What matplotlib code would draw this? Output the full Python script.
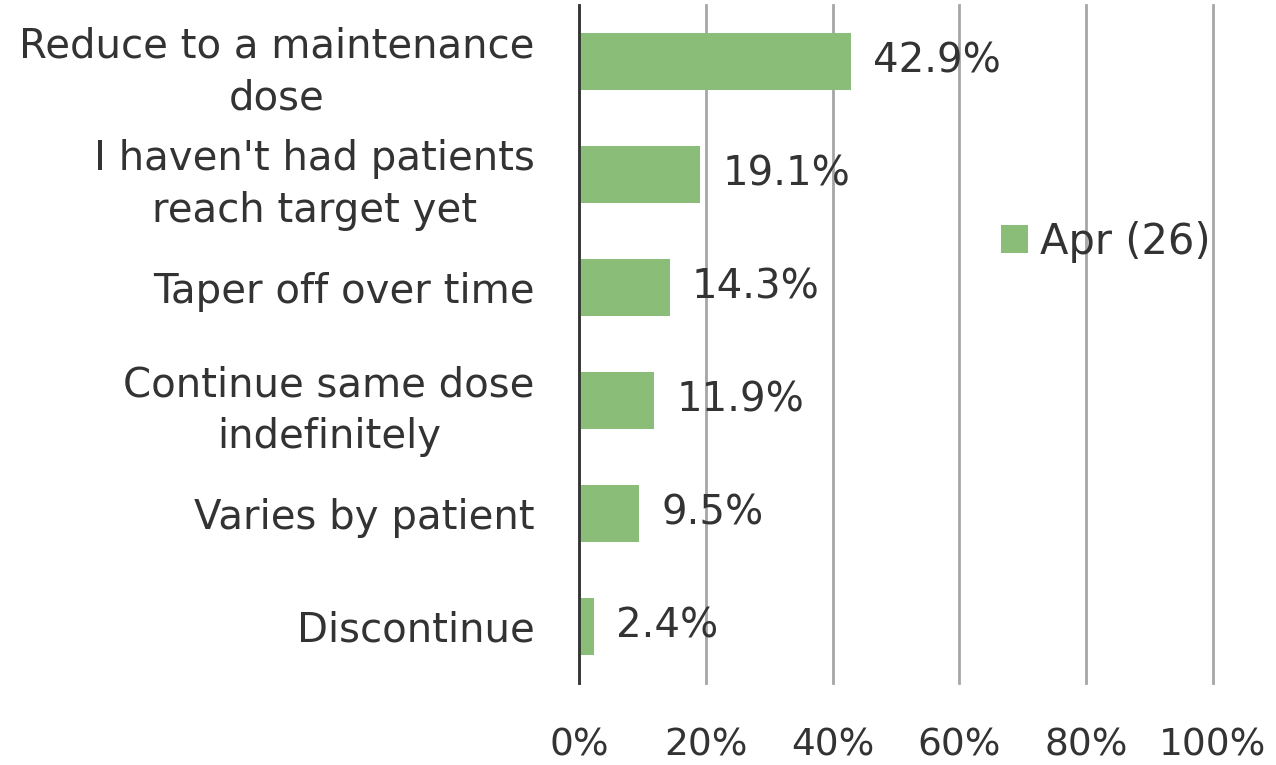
import matplotlib
matplotlib.use("Agg")
import matplotlib.pyplot as plt

# data (top to bottom)
categories = ["Reduce to a maintenance\ndose",
              "I haven't had patients\nreach target yet",
              "Taper off over time",
              "Continue same dose\nindefinitely",
              "Varies by patient",
              "Discontinue"]
values = [42.9, 19.1, 14.3, 11.9, 9.5, 2.4]
value_labels = ["42.9%", "19.1%", "14.3%", "11.9%", "9.5%", "2.4%"]
series_name = "Apr (26)"
xticks = [0, 20, 40, 60, 80, 100]
xtick_labels = ["0%", "20%", "40%", "60%", "80%", "100%"]

green = "#8abd78"
txt = "#333333"

plt.rcParams['font.family'] = ['DejaVu Sans']

fig = plt.figure(figsize=(12.76, 7.65), dpi=100)
ax = fig.add_axes([579/1276, 1-683/765, (1213-579)/1276, (683-5)/765])

pos = list(range(len(categories)))[::-1]
bars = ax.barh(pos, values, height=0.5, color=green, label=series_name, zorder=3)

for p, v, lab in zip(pos, values, value_labels):
    ax.annotate(lab, (v, p), xytext=(16, 0), textcoords='offset points',
                va='center', ha='left', fontsize=29, color=txt, zorder=4)

ax.set_xlim(0, 100)
ax.set_ylim(-0.5, len(categories) - 0.5)
ax.set_xticks(xticks)
ax.set_xticklabels(xtick_labels)
ax.set_yticks(pos)
ax.set_yticklabels(categories, multialignment='center', linespacing=1.4)

ax.tick_params(axis='x', length=0, pad=32, labelsize=27, labelcolor=txt)
ax.tick_params(axis='y', length=0, pad=32, labelsize=29, labelcolor=txt)

ax.grid(axis='x', color='#a6a6a6', linewidth=2, zorder=0)
for gl in ax.get_xgridlines():
    gl.set_clip_on(False)
for s in ['top', 'right', 'bottom']:
    ax.spines[s].set_visible(False)
ax.spines['left'].set_color(txt)
ax.spines['left'].set_linewidth(2)
ax.spines['left'].set_zorder(5)

leg = fig.legend(loc='center left', bbox_to_anchor=(963/1276, 1-242/765),
                 frameon=False, fontsize=30, handlelength=0.65, handleheight=0.65,
                 handletextpad=0.3, labelcolor=txt)

fig.savefig("out.png", dpi=100)
